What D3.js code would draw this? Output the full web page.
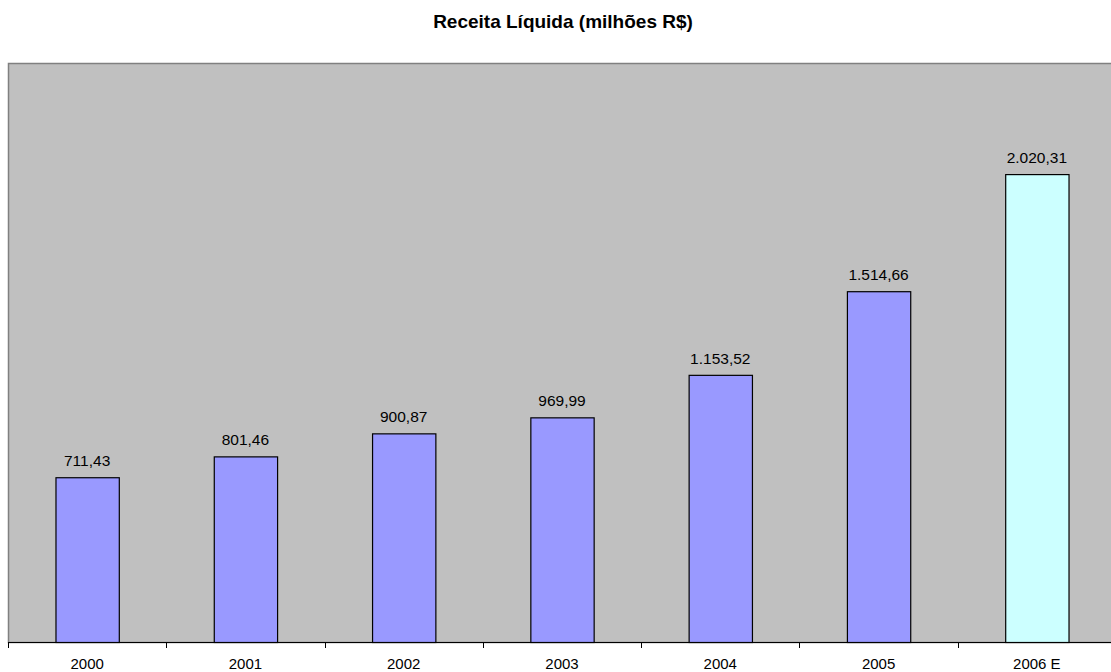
<!DOCTYPE html>
<html>
<head>
<meta charset="utf-8">
<script src="https://cdn.jsdelivr.net/npm/d3@7"></script>
<style>
  html, body { margin: 0; padding: 0; background: #ffffff; }
  svg { display: block; font-family: Arial, "Liberation Sans", sans-serif; }
</style>
</head>
<body>
<svg id="chart" width="1111" height="672"></svg>
<script>
// Net revenue per year, millions of R$ (2006 is an estimate)
const years = ["2000", "2001", "2002", "2003", "2004", "2005", "2006 E"];
const revenue = [711.43, 801.46, 900.87, 969.99, 1153.52, 1514.66, 2020.31];
const valueLabels = ["711,43", "801,46", "900,87", "969,99", "1.153,52", "1.514,66", "2.020,31"];
const estimated = [false, false, false, false, false, false, true];
const chartTitle = "Receita Líquida (milhões R$)";

const svg = d3.select("#chart");
const plot = { left: 8, top: 63, right: 1116, bottom: 642 };

const x = d3.scaleBand()
  .domain(years)
  .range([plot.left, plot.right])
  .paddingInner(0.6)
  .paddingOuter(0.3);

const y = d3.scaleLinear()
  .domain([0, 2500])
  .range([plot.bottom, plot.top]);

// Title
svg.append("text")
  .attr("x", 563)
  .attr("y", 27.5)
  .attr("text-anchor", "middle")
  .attr("font-size", "19px")
  .attr("font-weight", "bold")
  .attr("fill", "#000")
  .text(chartTitle);

// Plot background
svg.append("rect")
  .attr("x", plot.left + 0.5)
  .attr("y", plot.top + 0.5)
  .attr("width", plot.right - plot.left)
  .attr("height", plot.bottom - plot.top)
  .attr("fill", "#c0c0c0")
  .attr("stroke", "#808080")
  .attr("stroke-width", 1.5);

// Bars
svg.append("g")
  .selectAll("rect")
  .data(revenue)
  .join("rect")
  .attr("x", (d, i) => x(years[i]) + 0.5)
  .attr("y", d => y(d) + 0.5)
  .attr("width", x.bandwidth())
  .attr("height", d => y(0) - y(d))
  .attr("fill", (d, i) => estimated[i] ? "#ccffff" : "#9999ff")
  .attr("stroke", "#000")
  .attr("stroke-width", 1.2);

// Value labels
svg.append("g")
  .selectAll("text")
  .data(revenue)
  .join("text")
  .attr("x", (d, i) => x(years[i]) + x.bandwidth() / 2)
  .attr("y", d => y(d) - 11)
  .attr("text-anchor", "middle")
  .attr("font-size", "15.5px")
  .attr("fill", "#000")
  .text((d, i) => valueLabels[i]);

// Category axis with ticks on the category boundaries
const boundaries = d3.range(years.length + 1).map(i => plot.left + i * (plot.right - plot.left) / years.length);
const axisG = svg.append("g");
axisG.append("line")
  .attr("x1", plot.left)
  .attr("x2", plot.right)
  .attr("y1", plot.bottom + 0.5)
  .attr("y2", plot.bottom + 0.5)
  .attr("stroke", "#000")
  .attr("stroke-width", 1);
axisG.selectAll("line.tick")
  .data(boundaries)
  .join("line")
  .attr("class", "tick")
  .attr("x1", d => Math.round(d) + 0.5)
  .attr("x2", d => Math.round(d) + 0.5)
  .attr("y1", plot.bottom)
  .attr("y2", plot.bottom + 6)
  .attr("stroke", "#000");
axisG.selectAll("text")
  .data(years)
  .join("text")
  .attr("x", d => x(d) + x.bandwidth() / 2)
  .attr("y", 668.5)
  .attr("text-anchor", "middle")
  .attr("font-size", "15px")
  .attr("fill", "#000")
  .text(d => d);
</script>
</body>
</html>
